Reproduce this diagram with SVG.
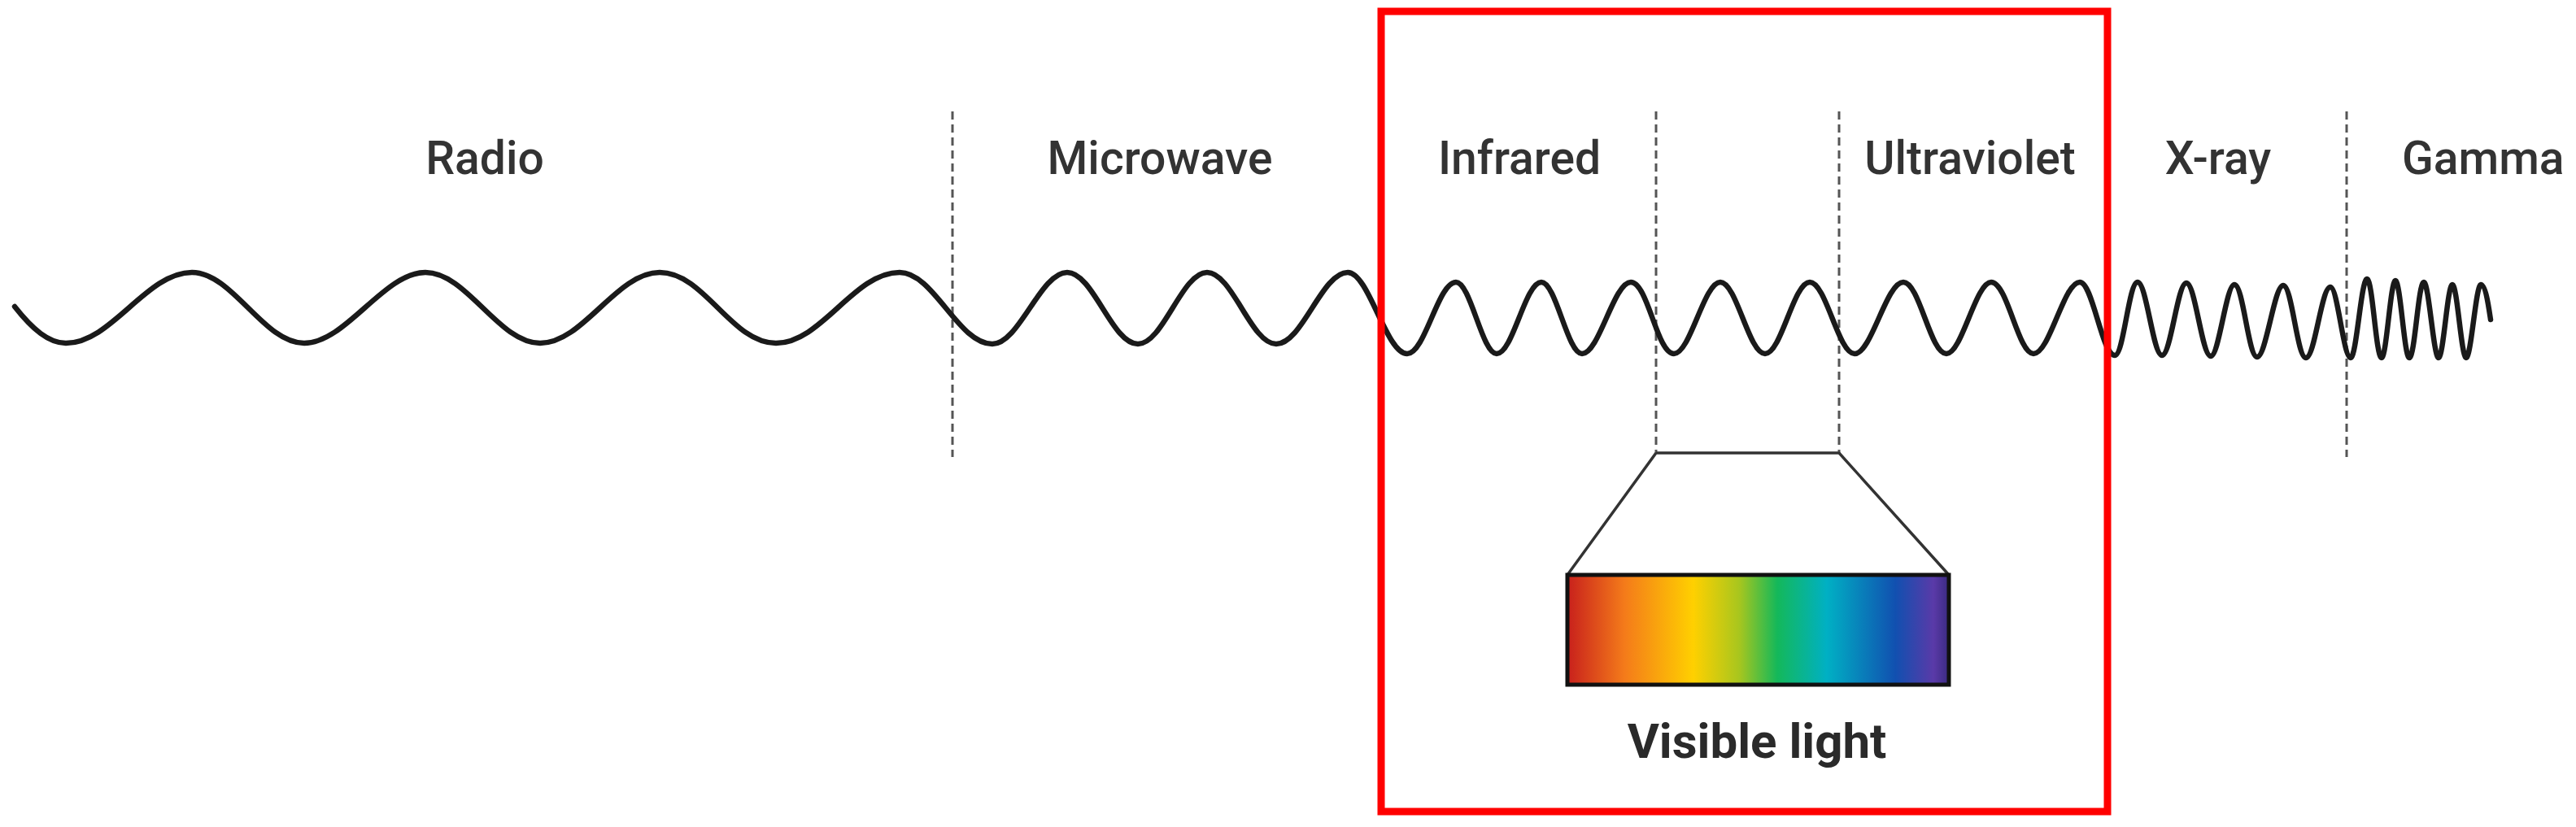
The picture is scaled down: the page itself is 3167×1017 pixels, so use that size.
<svg xmlns="http://www.w3.org/2000/svg" width="3167" height="1017" viewBox="0 0 3167 1017">
<style>
.lbl{font-family:Roboto,"Liberation Sans",sans-serif;font-weight:500;font-size:57px;fill:#333;text-anchor:middle}
.dash{stroke:#555;stroke-width:3;stroke-dasharray:10 6;fill:none}
.wave{stroke:#1a1a1a;stroke-width:6.5;fill:none;stroke-linejoin:round;stroke-linecap:round}
</style>
<defs>
<linearGradient id="spec" x1="0" y1="0" x2="1" y2="0">
<stop offset="0" stop-color="#c8201c"/>
<stop offset="0.15" stop-color="#f47b1a"/>
<stop offset="0.33" stop-color="#ffd000"/>
<stop offset="0.45" stop-color="#a8c61e"/>
<stop offset="0.55" stop-color="#14b85a"/>
<stop offset="0.68" stop-color="#00b0c4"/>
<stop offset="0.86" stop-color="#1150b0"/>
<stop offset="0.96" stop-color="#5a3aa8"/>
<stop offset="1" stop-color="#3a2a80"/>
</linearGradient>
</defs>
<rect width="3167" height="1017" fill="#fff"/>
<g id="dividers">
<line class="dash" x1="1171" y1="137" x2="1171" y2="562"/>
<line class="dash" x1="2036" y1="137" x2="2036" y2="557"/>
<line class="dash" x1="2261" y1="137" x2="2261" y2="557"/>
<line class="dash" x1="2592" y1="137" x2="2592" y2="552"/>
<line class="dash" x1="2885" y1="137" x2="2885" y2="562"/>
</g>
<g id="wave">
<path id="wavepath" class="wave" d="M18 377 C40 405 60 422 81 422 C137 422 180 335 236 335 C286 335 324 422 374 422 C425 422 472 335 523 335 C574 335 613 422 664 422 C717 422 758 335 811 335 C866 335 899 422 954 422 C1010 422 1050 335 1106 335 C1148 335 1178 423 1220 423 C1253 423 1279 335 1312 335 C1344 335 1367 423 1399 423 C1430 423 1453 335 1484 335 C1515 335 1538 423 1569 423 C1601 423 1625 335 1657 335 C1683 335 1704 435 1730 435 C1752 435 1768 347 1790 347 C1808 347 1822 435 1840 435 C1860 435 1875 347 1895 347 C1913 347 1927 435 1945 435 C1966 435 1984 347 2005 347 C2026 347 2037 435 2058 435 C2078 435 2095 347 2115 347 C2135 347 2150 435 2170 435 C2190 435 2205 347 2225 347 C2245 347 2260 435 2280 435 C2301 435 2319 347 2340 347 C2360 347 2373 435 2393 435 C2412 435 2429 347 2448 347 C2468 347 2481 435 2500 435 C2520 435 2537 347 2557 347 C2573 347 2584 437 2600 437 C2611 437 2617 347 2628 347 C2639 347 2647 437 2658 437 C2669 437 2677 348 2688 348 C2699 348 2707 438 2718 438 C2728 438 2737 350 2747 350 C2758 350 2764 439 2775 439 C2786 439 2796 351 2807 351 C2818 351 2824 440 2835 440 C2846 440 2854 353 2865 353 C2874 353 2881 440 2890 440 C2897 440 2903 343 2910 343 C2917 343 2921 440 2928 440 C2934 440 2939 345 2945 345 C2951 345 2956 440 2962 440 C2969 440 2973 347 2980 347 C2986 347 2992 440 2998 440 C3004 440 3009 350 3015 350 C3021 350 3026 440 3032 440 C3038 440 3044 350 3050 350 C3056 350 3060 380 3062 393"/>
</g>
<g id="labels">
<text class="lbl" x="596" y="214">Radio</text>
<text class="lbl" x="1426" y="214">Microwave</text>
<text class="lbl" x="1868" y="214">Infrared</text>
<text class="lbl" x="2422" y="214">Ultraviolet</text>
<text class="lbl" x="2727" y="214">X-ray</text>
<text class="lbl" x="2953" y="214" style="text-anchor:start">Gamma</text>
</g>
<g id="visible-light">
<path d="M2036 557 L2261 557 L2396 707 M2036 557 L1927 707" stroke="#333" stroke-width="3.5" fill="none"/>
<rect x="1927" y="707" width="469" height="135" fill="url(#spec)" stroke="#111" stroke-width="5"/>
<text class="lbl" x="2160" y="932" style="font-size:60px;font-weight:700;fill:#2a2a2a">Visible light</text>
</g>
<g id="highlight">
<rect x="1698" y="14" width="893" height="984" fill="none" stroke="#ff0000" stroke-width="9"/>
</g>
</svg>
